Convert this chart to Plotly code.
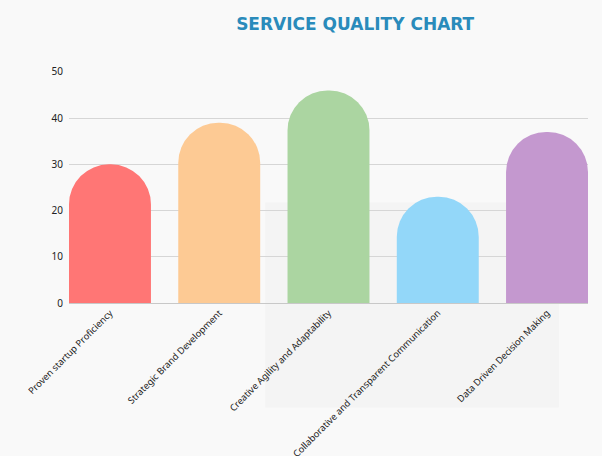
import plotly.graph_objects as go

categories = [
    "Proven startup Proficiency",
    "Strategic Brand Development",
    "Creative Agility and Adaptability",
    "Collaborative and Transparent Communication",
    "Data Driven Decision Making",
]
scores = [30, 39, 46, 23, 37]
bar_colors = ["#FF7675", "#FDCA94", "#ABD5A1", "#93D7F9", "#C498CF"]

fig = go.Figure(
    # rounded top bars
    data=[go.Bar(x=categories, y=scores, marker=dict(color=bar_colors, cornerradius="50%", line=dict(width=0)))],
    layout=go.Layout(
        width=602,
        height=456,
        margin=dict(l=69, r=14, t=71, b=153, autoexpand=False),
        paper_bgcolor="#F9F9F9",
        plot_bgcolor="rgba(0,0,0,0)",
        bargap=0.25,
        showlegend=False,
        title=dict(
            text="SERVICE QUALITY CHART",
            x=0.59,
            xanchor="center",
            y=0.948,
            yanchor="middle",
            font=dict(family="DejaVu Sans", size=17, weight="bold", color="#2A8BBB"),
        ),
        xaxis=dict(
            range=[-0.375, 4.375],
            tickangle=-45,
            tickfont=dict(family="Noto Sans", size=9.3, color="#222222"),
            showline=True,
            linecolor="#C8C8C8",
            linewidth=1,
            ticks="",
            showgrid=False,
            automargin=False,
        ),
        yaxis=dict(
            range=[0, 50.2],
            dtick=10,
            tickfont=dict(family="Noto Sans", size=10, color="#222222"),
            gridcolor="#D6D6D6",
            gridwidth=1,
            zeroline=False,
            ticks="",
            ticklabelstandoff=5,
            automargin=False,
        ),
        # faint panel seen behind the right half of the chart
        shapes=[
            dict(
                type="rect",
                xref="paper",
                yref="paper",
                x0=0.378,
                x1=0.944,
                y0=-0.45,
                y1=0.433,
                fillcolor="#F4F4F4",
                line=dict(width=0),
                layer="below",
            )
        ],
    ),
)

fig.write_html(
    "out.html",
    config={"displayModeBar": False},
    post_script="document.body.style.margin='0';",
)
